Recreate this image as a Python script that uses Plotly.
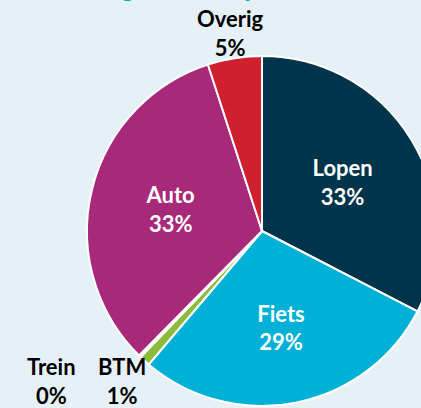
import math
import plotly.graph_objects as go

# Data (shares in %)
categories = ["Lopen", "Fiets", "BTM", "Trein", "Auto", "Overig"]
shares = [32.6, 28.6, 1.0, 0.2, 32.6, 5.0]
colors = ["#00344a", "#00b0d6", "#8dbb3d", "#f2b600", "#a8297a", "#d01f2e"]
inside_labels = ["Lopen", "Fiets", "Auto"]

W, H = 440, 408
BG = "#e6f1f7"
FONT = "Lato"

# pie geometry (pixels)
CX, CY, R = 262, 231, 175

fig = go.Figure(
    go.Pie(
        labels=categories,
        values=shares,
        sort=False,
        direction="clockwise",
        rotation=0,
        marker=dict(colors=colors, line=dict(color="white", width=2)),
        texttemplate="%{label}<br>%{percent:.0%}",
        textposition=["inside" if c in inside_labels else "none" for c in categories],
        insidetextorientation="horizontal",
        insidetextfont=dict(family=FONT, size=22, weight=700, color="white"),
        domain=dict(x=[(CX - R) / W, (CX + R) / W], y=[(H - CY - R) / H, (H - CY + R) / H]),
        hoverinfo="skip",
        showlegend=False,
    )
)

# outside labels for the small slices, placed from the slices' mid angles
total = sum(shares)
cum = 0.0
mid = {}
for c, v in zip(categories, shares):
    mid[c] = (cum + v / 2) / total * 2 * math.pi
    cum += v
pct = {c: round(v / total * 100) for c, v in zip(categories, shares)}

outside = {"Overig": (1.14, 0), "BTM": (1.16, -4), "Trein": (1.16, -74)}
for c, (k, xs) in outside.items():
    a = mid["BTM"] if c == "Trein" else mid[c]
    xp = CX + k * R * math.sin(a)
    yp = CY - k * R * math.cos(a)
    fig.add_annotation(
        text=f"{c}<br>{pct[c]}%",
        x=xp / W, y=1 - yp / H, xref="paper", yref="paper",
        xanchor="center", yanchor="middle", xshift=xs, yshift=1,
        showarrow=False,
        font=dict(family=FONT, size=22, weight=700, color="black"),
    )

fig.add_annotation(
    text="Verdeling vervoerwijzen",
    x=30 / W, xref="paper", xanchor="left",
    y=1, yref="paper", yanchor="bottom", yshift=-4,
    showarrow=False,
    font=dict(family=FONT, size=24, weight=700, color="#00a8d8"),
)

fig.update_layout(
    width=W, height=H, autosize=False,
    margin=dict(l=0, r=0, t=0, b=0),
    paper_bgcolor=BG, plot_bgcolor=BG,
    showlegend=False,
)

fig.write_html(
    "out.html",
    post_script="document.body.style.overflow='hidden';document.documentElement.style.overflow='hidden';document.body.style.margin='0';",
)
